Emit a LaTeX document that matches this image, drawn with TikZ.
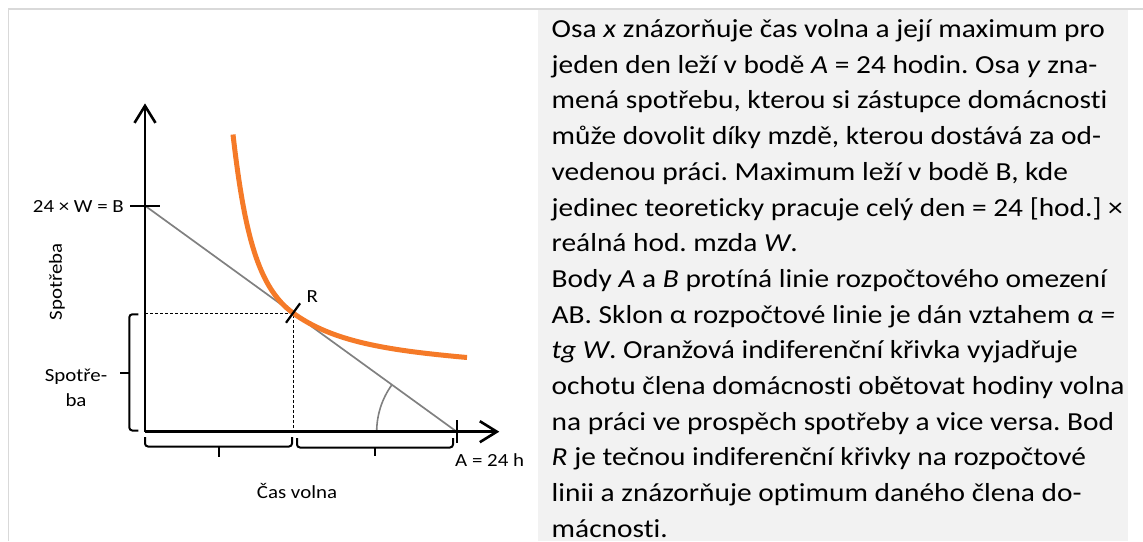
\documentclass[tikz,border=0pt]{standalone}
\usepackage{fontspec}
\setmainfont{Carlito}[FakeStretch=1.13, Ligatures=NoCommon]
\setsansfont{Carlito}[FakeStretch=1.13, Ligatures=NoCommon]
\frenchspacing
\usetikzlibrary{arrows.meta, calc}
\definecolor{corange}{HTML}{F57A28}
\definecolor{cgrey}{HTML}{808080}
\definecolor{cframe}{HTML}{D9D9D9}
\definecolor{cpanel}{HTML}{F2F2F2}
\tikzset{
  every picture/.style={font=\sffamily},
  axis/.style={-{Straight Barb[length=17pt, width=21pt]}, line width=2.6pt},
  budget/.style={draw=cgrey, line width=1.7pt},
  tickline/.style={line width=2.2pt},
  brace/.style={line width=2pt, rounded corners=3pt},
  guide/.style={densely dashed, line width=0.8pt},
  indiff/.style={draw=corange, line width=5pt},
  lbl/.style={font=\sffamily\fontsize{18.5}{25}\selectfont, inner sep=0pt},
  bodytext/.style={font=\sffamily\fontsize{26}{35.7}\selectfont, align=left, inner sep=0pt},
}

\begin{document}
\begin{tikzpicture}[x=1pt, y=1pt]
  \useasboundingbox (0,0) rectangle (1143,-541);
  % frame and text panel
  \fill[cpanel] (538,-10) rectangle (1128,-541);
  \draw[cframe, line width=1.5pt] (8.5,-541) -- (8.5,-9) -- (1143,-9);
  % points of the chart
  \coordinate (O) at (145,-431.7);
  \coordinate (A) at (456.7,-431.7);
  \coordinate (B) at (145,-205.7);
  \coordinate (R) at ($(B)!0.475!(A)$);
  \coordinate (ytop) at (145,-103.4);
  \coordinate (xend) at (499.3,-431.7);
  % guides to R
  \draw[guide] (R -| O) -- (R) -- (R |- O);
  % budget line and angle
  \draw[budget] (B) -- (A);
  \draw[cgrey, line width=1.6pt] ($(A)+(-80,0)$) arc[start angle=180, end angle=144.06, radius=80pt];
  % indifference curve
  \draw[indiff] (233,-134.5) .. controls (244.5,-234.5) and ($(R)!-43pt!(A)$) .. (R)
    .. controls ($(R)!49pt!(A)$) and (387,-350.3) .. (467,-357.5);
  % axes
  \draw[axis] (O) -- (ytop);
  \draw[axis] (O) -- (xend);
  % ticks
  \draw[tickline] ($(B)+(-15,0)$) -- ($(B)+(15,0)$);
  \draw[tickline] ($(A)+(0,11.7)$) -- ($(A)+(0,-11.3)$);
  \draw[tickline] ($(R)!12pt!90:(A)$) -- ($(R)!12pt!-90:(A)$);
  % braces
  \draw[brace] (138.3,-314.3) -- (129.3,-314.3) -- (129.3,-430.5) -- (138.3,-430.5);
  \draw[brace] (129.3,-372.5) -- (120,-372.5);
  \draw[brace] (145,-437) -- (145,-446.5) -- (292,-446.5) -- (292,-437);
  \draw[brace] (219,-446.5) -- (219,-456.5);
  \draw[brace] (297,-438) -- (297,-447.5) -- (453,-447.5) -- (453,-438);
  \draw[brace] (375.3,-447.5) -- (375.3,-456);
  % labels
  \node[lbl, anchor=base east] (Blbl) at (124,-212.3) {24 × W = B};
  \node[lbl, anchor=base west] (Rlbl) at (306.5,-302.7) {R};
  \node[lbl, anchor=base west] (Albl) at (455,-466.7) {A = 24 h};
  \node[lbl, anchor=base] (xlbl) at (297,-498) {Čas volna};
  \node[lbl, rotate=90] (ylbl) at (57,-282) {Spotřeba};
  \node[lbl, align=center] (slbl) at (76,-388) {Spotře-\\ba};
  % explanation
  \node[bodytext, anchor=north west] (body) at (551.5,-7.3) {\rule{0pt}{30pt}Osa \textit{x} znázorňuje čas volna a její maximum pro\\
    jeden den leží v bodě \textit{A} = 24 hodin. Osa \textit{y} zna-\\
    mená spotřebu, kterou si zástupce domácnosti\\
    může dovolit díky mzdě, kterou dostává za od-\\
    vedenou práci. Maximum leží v bodě B, kde\\
    jedinec teoreticky pracuje celý den = 24 [hod.] ×\\
    reálná hod. mzda \textit{W}.\\
    Body \textit{A} a \textit{B} protíná linie rozpočtového omezení\\
    AB. Sklon α rozpočtové linie je dán vztahem \textit{α =}\\
    \textit{tg W}. Oranžová indiferenční křivka vyjadřuje\\
    ochotu člena domácnosti obětovat hodiny volna\\
    na práci ve prospěch spotřeby a vice versa. Bod\\
    \textit{R} je tečnou indiferenční křivky na rozpočtové\\
    linii a znázorňuje optimum daného člena do-\\
    mácnosti.};
\end{tikzpicture}
\end{document}
